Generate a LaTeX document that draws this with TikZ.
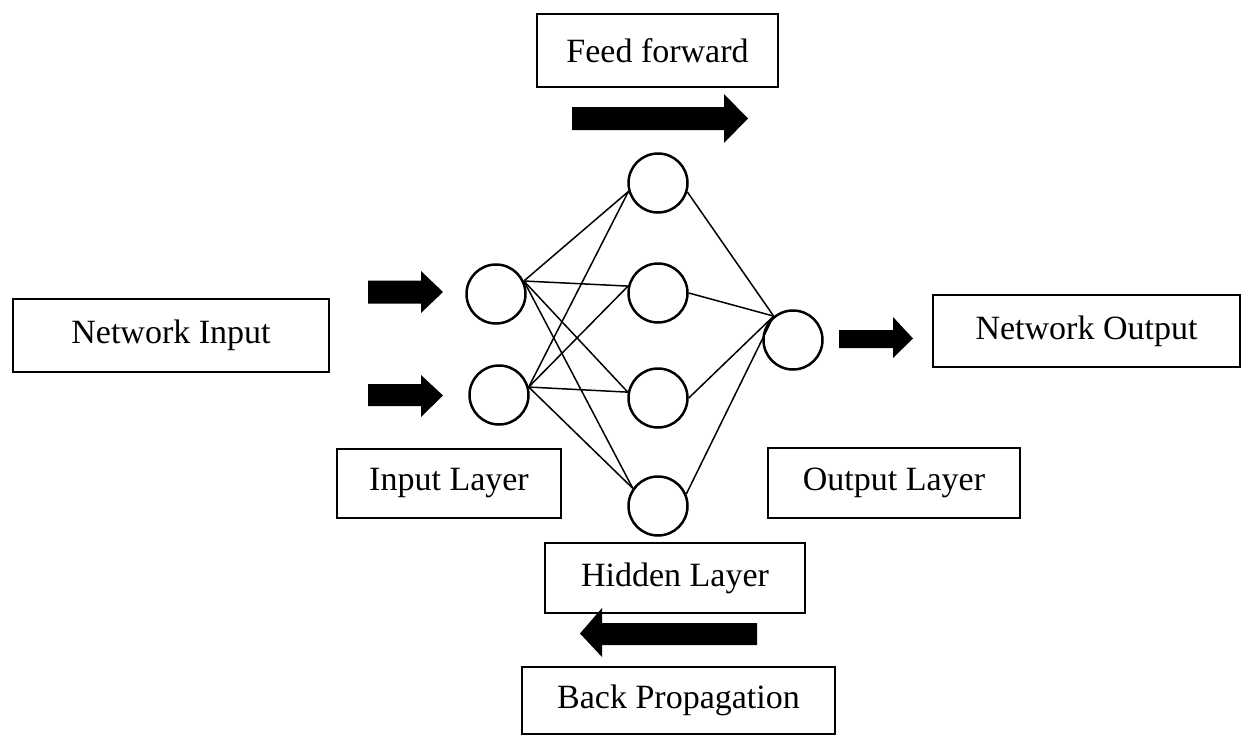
\documentclass[tikz,border=0pt]{standalone}
\usepackage{fontspec}
\setmainfont{Liberation Serif}
\begin{document}
\begin{tikzpicture}[x=1pt,y=-1pt,
  labelbox/.style={draw, line width=2.6pt, rectangle, inner sep=0pt,
    font=\fontsize{34}{40}\selectfont},
  neuron/.style={draw, line width=2.5pt, circle, minimum size=59pt, inner sep=0pt},
  link/.style={line width=1.5pt},
  blockarrow/.style={fill=black}]
\useasboundingbox (0,0) rectangle (1243,736);

% text boxes
\node[labelbox, minimum width=316pt, minimum height=73pt] (netin)  at (171,335.5) {Network Input};
\node[labelbox, minimum width=241pt, minimum height=73pt] (ff)     at (657.5,50.5) {Feed forward};
\node[labelbox, minimum width=307pt, minimum height=72pt] (netout) at (1086.5,331) {Network Output};
\node[labelbox, minimum width=224pt, minimum height=69pt] (inlay)  at (449,483.5) {Input Layer};
\node[labelbox, minimum width=252pt, minimum height=70pt] (outlay) at (894,483) {Output Layer};
\node[labelbox, minimum width=260pt, minimum height=70pt] (hidlay) at (675,578) {Hidden Layer};
\node[labelbox, minimum width=313pt, minimum height=67pt] (back)   at (678.5,700.5) {Back Propagation};

% neurons
\node[neuron] (i1) at (496,294) {};
\node[neuron] (i2) at (499,395) {};
\node[neuron] (h1) at (658,183) {};
\node[neuron] (h2) at (658,293) {};
\node[neuron] (h3) at (658,398) {};
\node[neuron] (h4) at (658,506) {};
\node[neuron] (o1) at (793,340) {};

% weights: input -> hidden
\foreach \src/\a in {i1/25, i2/15}{
  \draw[link] (\src.\a) -- (h1.196);
  \draw[link] (\src.\a) -- (h2.167);
  \draw[link] (\src.\a) -- (h3.169);
  \draw[link] (\src.\a) -- (h4.145);
}
% weights: hidden -> output
\draw[link] (h1.-17) -- (o1.129);
\draw[link] (h2.0)   -- (o1.129);
\draw[link] (h3.0)   -- (o1.129);
\draw[link] (h4.23)  -- (o1.129);

% block arrows
\fill[blockarrow] (368,280.5) -- (421,280.5) -- (421,271) -- (443,292) -- (421,313) -- (421,303.5) -- (368,303.5) -- cycle;
\fill[blockarrow] (368,384) -- (421,384) -- (421,375) -- (443,395.5) -- (421,417) -- (421,406) -- (368,406) -- cycle;
\fill[blockarrow] (572,107) -- (724,107) -- (724,94) -- (748,118.5) -- (724,143) -- (724,130) -- (572,130) -- cycle;
\fill[blockarrow] (839,330) -- (893,330) -- (893,317) -- (913,338.5) -- (893,358) -- (893,348) -- (839,348) -- cycle;
\fill[blockarrow] (757,623) -- (602,623) -- (602,608) -- (580,633.5) -- (602,657) -- (602,645) -- (757,645) -- cycle;
\end{tikzpicture}
\end{document}
